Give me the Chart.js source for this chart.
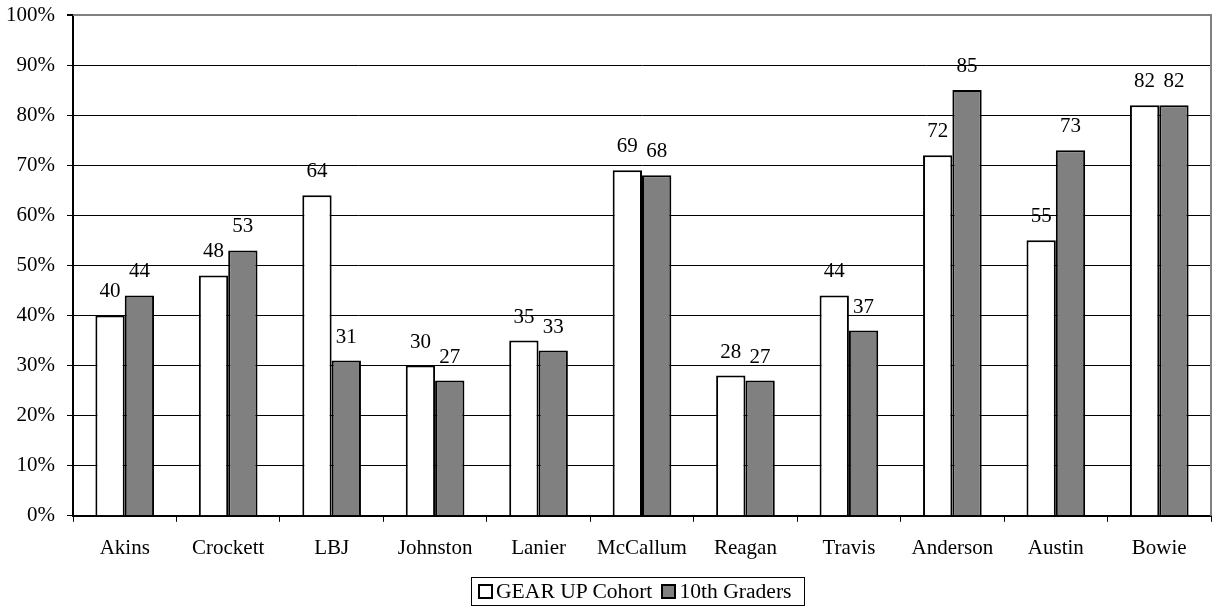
<!DOCTYPE html>
<html>
<head>
<meta charset="utf-8">
<script src="https://cdn.jsdelivr.net/npm/chart.js@4.4.1/dist/chart.umd.min.js"></script>
<style>
  html, body { margin: 0; padding: 0; background: #fff; }
  #wrap { position: relative; width: 1220px; height: 611px; }
  #legend {
    position: absolute; left: 471px; top: 577px; width: 334px; height: 29px;
    border: 1px solid #000; box-sizing: border-box;
    display: flex; align-items: center; padding: 0 0 0 6px;
    font-family: "Liberation Serif", "Times New Roman", serif; font-size: 21.6px; color: #000;
    white-space: nowrap;
  }
  .item { display: flex; align-items: center; }
  .item + .item { margin-left: 9px; }
  .swatch { width: 15px; height: 15px; border: 2px solid #000; box-sizing: border-box; margin-right: 3px; }
</style>
</head>
<body>
<div id="wrap">
  <canvas id="c" width="1220" height="611"></canvas>
  <div id="legend"></div>
</div>
<script>
// Schools on the category axis
const schools = ["Akins", "Crockett", "LBJ", "Johnston", "Lanier", "McCallum", "Reagan", "Travis", "Anderson", "Austin", "Bowie"];
// Percent of students per school
const gearUpCohort = [40, 48, 64, 30, 35, 69, 28, 44, 72, 55, 82];
const tenthGraders = [44, 53, 31, 27, 33, 68, 27, 37, 85, 73, 82];
const seriesNames = ["GEAR UP Cohort", "10th Graders"];
const seriesColors = ["#ffffff", "#808080"];
// Value axis ticks
const yTicks = [0, 10, 20, 30, 40, 50, 60, 70, 80, 90, 100];

const FONT = "Liberation Serif";
const FONT_SIZE = 21;

// Value labels above each bar
const valueLabels = {
  id: "valueLabels",
  afterDatasetsDraw(chart) {
    const ctx = chart.ctx;
    ctx.save();
    ctx.font = FONT_SIZE + "px '" + FONT + "'";
    ctx.fillStyle = "#000";
    ctx.textAlign = "center";
    ctx.textBaseline = "alphabetic";
    chart.data.datasets.forEach((ds, di) => {
      chart.getDatasetMeta(di).data.forEach((bar, i) => {
        ctx.fillText(String(ds.data[i]), bar.x, bar.y - 18);
      });
    });
    ctx.restore();
  }
};

// Gray frame along the top and right of the plot area
const plotFrame = {
  id: "plotFrame",
  beforeDatasetsDraw(chart) {
    const a = chart.chartArea;
    const ctx = chart.ctx;
    ctx.save();
    ctx.strokeStyle = "#808080";
    ctx.lineWidth = 2;
    ctx.beginPath();
    ctx.moveTo(a.left, a.top);
    ctx.lineTo(a.right, a.top);
    ctx.lineTo(a.right, a.bottom);
    ctx.stroke();
    ctx.restore();
  }
};

new Chart(document.getElementById("c"), {
  type: "bar",
  data: {
    labels: schools,
    datasets: [
      { label: seriesNames[0], data: gearUpCohort, backgroundColor: seriesColors[0], borderColor: "#000", borderWidth: 2, borderSkipped: "bottom" },
      { label: seriesNames[1], data: tenthGraders, backgroundColor: seriesColors[1], borderColor: "#000", borderWidth: 2, borderSkipped: "bottom" }
    ]
  },
  options: {
    responsive: false,
    animation: false,
    events: [],
    layout: { padding: { left: 6, right: 9, top: 15, bottom: 36 } },
    datasets: { bar: { categoryPercentage: 0.567, barPercentage: 1.0 } },
    plugins: { legend: { display: false }, tooltip: { enabled: false } },
    scales: {
      x: {
        offset: true,
        grid: { display: true, drawOnChartArea: false, drawTicks: true, tickLength: 6, color: "#000", lineWidth: 1 },
        border: { display: true, color: "#000", width: 2 },
        ticks: { color: "#000", font: { family: FONT, size: FONT_SIZE }, padding: 14, maxRotation: 0, autoSkip: false }
      },
      y: {
        min: 0, max: 100,
        afterBuildTicks(scale) { scale.ticks = yTicks.map(v => ({ value: v })); },
        afterFit(scale) { scale.width = 67; scale.paddingTop = 0; scale.paddingBottom = 0; },
        grid: {
          color: ctx => (ctx.tick && ctx.tick.value === 100 ? "#808080" : "#000"),
          lineWidth: ctx => (ctx.tick && ctx.tick.value === 100 ? 2 : 1),
          tickColor: "#000", tickLength: 6, drawTicks: true
        },
        border: { display: true, color: "#000", width: 2 },
        ticks: { color: "#000", font: { family: FONT, size: FONT_SIZE }, padding: 12, callback: v => v + "%" }
      }
    }
  },
  plugins: [plotFrame, valueLabels]
});

// Legend below the chart
const legend = document.getElementById("legend");
seriesNames.forEach((name, i) => {
  const item = document.createElement("div");
  item.className = "item";
  const sw = document.createElement("span");
  sw.className = "swatch";
  sw.style.background = seriesColors[i];
  const tx = document.createElement("span");
  tx.textContent = name;
  item.appendChild(sw);
  item.appendChild(tx);
  legend.appendChild(item);
});
</script>
</body>
</html>
